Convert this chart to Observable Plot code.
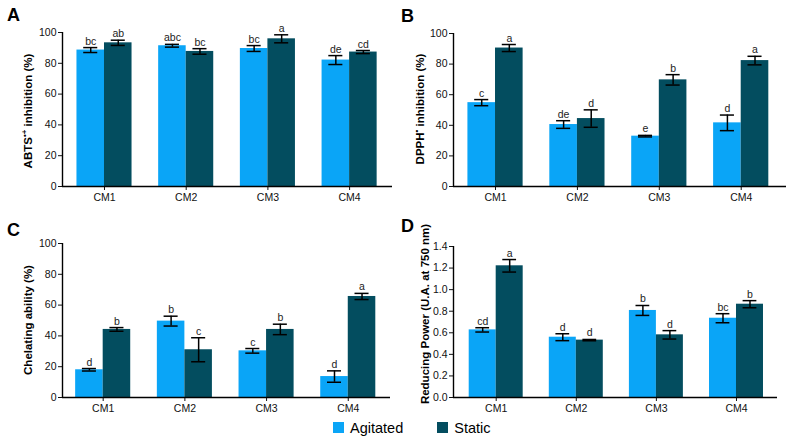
<!DOCTYPE html>
<html>
<head>
<meta charset="utf-8">
<script src="https://cdn.jsdelivr.net/npm/d3@7"></script>
<script src="https://cdn.jsdelivr.net/npm/@observablehq/plot@0.6"></script>
<style>
  body { margin: 0; background: #fff; }
  #fig { position: relative; width: 789px; height: 442px; overflow: hidden;
         font-family: "Liberation Sans", Arial, Helvetica, sans-serif; color: #000; }
  .panel { position: absolute; }
  .letter { position: absolute; font-weight: bold; font-size: 18px; line-height: 1; }
  .ytitle { position: absolute; font-weight: bold; font-size: 11.5px; white-space: nowrap;
            transform: translate(-50%, -50%) rotate(-90deg); }
  .ytitle sup { font-size: 8px; line-height: 0; vertical-align: 5px; }
  #legend { position: absolute; left: 333px; top: 411px; }
  #legend .key-swatch { margin-right: 34px !important; }
  #legend .key-swatch > svg { margin-right: 6px !important; }
</style>
</head>
<body>
<div id="fig"></div>
<script>
// Culture methods and treatments
const categories = ["CM1", "CM2", "CM3", "CM4"];
const seriesNames = ["Agitated", "Static"];
const seriesColors = ["#0aa5f7", "#034d5f"];

// A — ABTS•+ inhibition (%), mean ± SD and Tukey groups
const abtsAgitated = [88.6, 91.4, 89.6, 82.1];
const abtsAgitatedSd = [1.6, 0.9, 1.9, 2.9];
const abtsAgitatedGroups = ["bc", "abc", "bc", "de"];
const abtsStatic = [93.3, 87.7, 95.9, 87.3];
const abtsStaticSd = [1.7, 1.8, 2.6, 1.0];
const abtsStaticGroups = ["ab", "bc", "a", "cd"];

// B — DPPH• inhibition (%)
const dpphAgitated = [54.8, 40.5, 32.9, 41.6];
const dpphAgitatedSd = [2.0, 2.5, 0.5, 5.1];
const dpphAgitatedGroups = ["c", "de", "e", "d"];
const dpphStatic = [90.5, 44.4, 69.7, 82.3];
const dpphStaticSd = [2.3, 5.7, 3.4, 2.8];
const dpphStaticGroups = ["a", "d", "b", "a"];

// C — Chelating ability (%)
const chelAgitated = [18.0, 49.6, 30.3, 13.6];
const chelAgitatedSd = [0.8, 3.2, 1.5, 3.7];
const chelAgitatedGroups = ["d", "b", "c", "d"];
const chelStatic = [44.2, 31.0, 44.2, 65.6];
const chelStaticSd = [1.2, 7.8, 3.4, 2.0];
const chelStaticGroups = ["b", "c", "b", "a"];

// D — Reducing power (absorbance at 750 nm)
const rpAgitated = [0.627, 0.559, 0.807, 0.735];
const rpAgitatedSd = [0.020, 0.032, 0.046, 0.042];
const rpAgitatedGroups = ["cd", "d", "b", "bc"];
const rpStatic = [1.221, 0.532, 0.581, 0.865];
const rpStaticSd = [0.058, 0.006, 0.039, 0.033];
const rpStaticGroups = ["a", "d", "d", "b"];

const percentTicks = [0, 20, 40, 60, 80, 100];
const absorbanceTicks = [0, 0.2, 0.4, 0.6, 0.8, 1.0, 1.2, 1.4];

const BAR = 0.337;   // bar width, in category units
const CAP = 0.086;   // half width of the error-bar caps

function rowsFor(agitated, agitatedSd, agitatedGroups, stat, statSd, statGroups) {
  const rows = [];
  categories.forEach((c, i) => {
    const k = i + 1;
    rows.push({category: c, series: "Agitated", value: agitated[i], sd: agitatedSd[i],
               group: agitatedGroups[i], x1: k - BAR, x2: k, xc: k - BAR / 2});
    rows.push({category: c, series: "Static", value: stat[i], sd: statSd[i],
               group: statGroups[i], x1: k, x2: k + BAR, xc: k + BAR / 2});
  });
  return rows;
}

function panel(rows, o) {
  const lo = d => d.value - d.sd;
  const hi = d => d.value + d.sd;
  const chart = Plot.plot({
    width: o.width, height: o.height,
    marginLeft: o.marginLeft, marginRight: o.marginRight,
    marginTop: o.marginTop, marginBottom: o.marginBottom,
    style: {fontFamily: '"Liberation Sans", Arial, sans-serif', fontSize: "10.5px", color: "#111", background: "transparent"},
    x: {domain: o.xDomain, ticks: [1, 2, 3, 4], tickFormat: v => categories[v - 1],
        tickSize: 4, tickPadding: 3, label: null},
    y: {domain: o.yDomain, ticks: o.yTicks, tickFormat: o.yFormat, tickSize: 4, tickPadding: 2, label: null},
    color: {domain: seriesNames, range: seriesColors},
    marks: [
      Plot.rect(rows, {x1: "x1", x2: "x2", y1: () => 0, y2: "value", fill: "series"}),
      Plot.ruleX(rows, {x: "xc", y1: lo, y2: hi, stroke: "#000", strokeWidth: 1.5}),
      Plot.ruleY(rows, {x1: d => d.xc - CAP, x2: d => d.xc + CAP, y: hi, stroke: "#000", strokeWidth: 1.5}),
      Plot.ruleY(rows, {x1: d => d.xc - CAP, x2: d => d.xc + CAP, y: lo, stroke: "#000", strokeWidth: 1.5}),
      Plot.text(rows, {x: "xc", y: hi, text: "group", dy: -3, lineAnchor: "bottom", fontSize: 10.5, fill: "#222"}),
      Plot.ruleY([0], {stroke: "#000", strokeWidth: 1.4}),
      Plot.ruleX([o.xDomain[0]], {stroke: "#000", strokeWidth: 1.4})
    ]
  });
  chart.classList.add("panel");
  chart.style.left = o.left + "px";
  chart.style.top = o.top + "px";
  return chart;
}

const fig = document.getElementById("fig");

fig.append(panel(
  rowsFor(abtsAgitated, abtsAgitatedSd, abtsAgitatedGroups, abtsStatic, abtsStaticSd, abtsStaticGroups),
  {left: 0, top: 0, width: 395, height: 212, marginLeft: 62, marginRight: 3, marginTop: 32, marginBottom: 26,
   xDomain: [0.486, 4.525], yDomain: [0, 100], yTicks: percentTicks, yFormat: d3.format("d")}));

fig.append(panel(
  rowsFor(dpphAgitated, dpphAgitatedSd, dpphAgitatedGroups, dpphStatic, dpphStaticSd, dpphStaticGroups),
  {left: 395, top: 0, width: 394, height: 212, marginLeft: 58, marginRight: 3, marginTop: 33, marginBottom: 26,
   xDomain: [0.487, 4.553], yDomain: [0, 100], yTicks: percentTicks, yFormat: d3.format("d")}));

fig.append(panel(
  rowsFor(chelAgitated, chelAgitatedSd, chelAgitatedGroups, chelStatic, chelStaticSd, chelStaticGroups),
  {left: 0, top: 212, width: 395, height: 210, marginLeft: 62, marginRight: 5, marginTop: 31, marginBottom: 25,
   xDomain: [0.502, 4.517], yDomain: [0, 100], yTicks: percentTicks, yFormat: d3.format("d")}));

fig.append(panel(
  rowsFor(rpAgitated, rpAgitatedSd, rpAgitatedGroups, rpStatic, rpStaticSd, rpStaticGroups),
  {left: 395, top: 212, width: 394, height: 210, marginLeft: 58, marginRight: 12, marginTop: 34, marginBottom: 25,
   xDomain: [0.467, 4.512], yDomain: [0, 1.4], yTicks: absorbanceTicks, yFormat: d3.format(".1f")}));

// Panel letters and y-axis titles
const letters = [["A", 7, 6], ["B", 401, 7], ["C", 7, 221], ["D", 401, 217]];
for (const [t, x, y] of letters) {
  const el = document.createElement("div");
  el.className = "letter";
  el.textContent = t;
  el.style.left = x + "px";
  el.style.top = y + "px";
  fig.append(el);
}
const titles = [
  ["ABTS<sup>•+</sup> inhibition (%)", 28, 111],
  ["DPPH<sup>•</sup> inhibition (%)", 420, 109],
  ["Chelating ability (%)", 28, 320],
  ["Reducing Power (U.A. at 750 nm)", 425, 314]
];
for (const [html, x, y] of titles) {
  const el = document.createElement("div");
  el.className = "ytitle";
  el.innerHTML = html;
  el.style.left = x + "px";
  el.style.top = y + "px";
  fig.append(el);
}

// Shared colour key
const key = Plot.legend({
  color: {domain: seriesNames, range: seriesColors},
  legend: "swatches", swatchSize: 11, className: "key",
  style: {fontFamily: '"Liberation Sans", Arial, sans-serif', fontSize: "14.5px", color: "#000", margin: "0"}
});
const keyWrap = document.createElement("div");
keyWrap.id = "legend";
keyWrap.append(key);
fig.append(keyWrap);
</script>
</body>
</html>
